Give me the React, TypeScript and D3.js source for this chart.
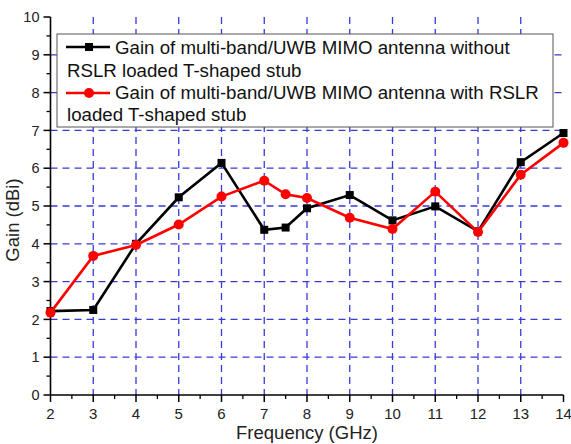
import React from "react";
import * as d3 from "d3";

const freqs = [2, 3, 4, 5, 6, 7, 7.5, 8, 9, 10, 11, 12, 13, 14];
const gainWithout = [2.22, 2.25, 4.0, 5.23, 6.14, 4.37, 4.43, 4.94, 5.29, 4.62, 4.99, 4.33, 6.16, 6.93];
const gainWith = [2.18, 3.68, 3.97, 4.51, 5.25, 5.67, 5.31, 5.21, 4.69, 4.39, 5.38, 4.31, 5.83, 6.67];
const xTicks = [2, 3, 4, 5, 6, 7, 8, 9, 10, 11, 12, 13, 14];
const yTicks = [0, 1, 2, 3, 4, 5, 6, 7, 8, 9, 10];
const legendLines = [
  "Gain of multi-band/UWB MIMO antenna without",
  "RSLR loaded T-shaped stub",
  "Gain of multi-band/UWB MIMO antenna with RSLR",
  "loaded T-shaped stub",
];

const W = 571;
const H = 444;
const FONT = "'Liberation Sans', Arial, sans-serif";

export default function App() {
  const x = d3.scaleLinear().domain([2, 14]).range([50.5, 563.5]);
  const y = d3.scaleLinear().domain([0, 10]).range([395, 17]);
  const line = d3
    .line<[number, number]>()
    .x((d) => x(d[0]))
    .y((d) => y(d[1]));
  const blackPts: [number, number][] = freqs.map((f, i) => [f, gainWithout[i]]);
  const redPts: [number, number][] = freqs.map((f, i) => [f, gainWith[i]]);
  const xMinor = d3.range(2.5, 14, 1);
  const yMinor = d3.range(0.5, 10, 1);
  const gridColor = "#3a3ad6";

  return (
    <svg
      width={W}
      height={H}
      style={{ position: "absolute", left: 0, top: 0, background: "#fff" }}
      fontFamily={FONT}
    >
      <rect width={W} height={H} fill="#fff" />
      {/* grid */}
      {yTicks
        .filter((t) => t > 0 && t < 10)
        .map((t) => (
          <line
            key={"gy" + t}
            x1={x(2)}
            x2={x(14)}
            y1={y(t)}
            y2={y(t)}
            stroke={gridColor}
            strokeWidth={1.3}
            strokeDasharray="7,5"
          />
        ))}
      {xTicks
        .filter((t) => t > 2 && t < 14)
        .map((t) => (
          <line
            key={"gx" + t}
            x1={x(t)}
            x2={x(t)}
            y1={y(10)}
            y2={y(0)}
            stroke={gridColor}
            strokeWidth={1.3}
            strokeDasharray="7,5"
          />
        ))}
      {/* axes */}
      <line x1={x(2)} x2={x(2)} y1={y(10)} y2={y(0)} stroke="#000" strokeWidth={1.6} />
      <line x1={x(2)} x2={x(14)} y1={y(0)} y2={y(0)} stroke="#000" strokeWidth={1.6} />
      {yTicks.map((t) => (
        <g key={"yt" + t}>
          <line x1={x(2) - 7} x2={x(2)} y1={y(t)} y2={y(t)} stroke="#000" strokeWidth={1.5} />
          <text
            x={x(2) - 11}
            y={y(t)}
            dy="0.36em"
            textAnchor="end"
            fontSize={14.5}
            fill="#222"
          >
            {t}
          </text>
        </g>
      ))}
      {yMinor.map((t) => (
        <line key={"ym" + t} x1={x(2) - 4} x2={x(2)} y1={y(t)} y2={y(t)} stroke="#000" strokeWidth={1.3} />
      ))}
      {xTicks.map((t) => (
        <g key={"xt" + t}>
          <line x1={x(t)} x2={x(t)} y1={y(0)} y2={y(0) + 7} stroke="#000" strokeWidth={1.5} />
          <text x={x(t)} y={y(0) + 24} textAnchor="middle" fontSize={15} fill="#222">
            {t}
          </text>
        </g>
      ))}
      {xMinor.map((t) => (
        <line key={"xm" + t} x1={x(t)} x2={x(t)} y1={y(0)} y2={y(0) + 4} stroke="#000" strokeWidth={1.3} />
      ))}
      {/* axis titles */}
      <text x={307} y={439} textAnchor="middle" fontSize={18.5} fill="#222">
        Frequency (GHz)
      </text>
      <text
        transform="translate(19,220) rotate(-90)"
        textAnchor="middle"
        fontSize={18.5}
        fill="#222"
      >
        Gain (dBi)
      </text>
      {/* series */}
      <path d={line(blackPts) || ""} fill="none" stroke="#000" strokeWidth={2.6} />
      {blackPts.map((p, i) => (
        <rect key={"bm" + i} x={x(p[0]) - 4} y={y(p[1]) - 4} width={8} height={8} fill="#000" />
      ))}
      <path d={line(redPts) || ""} fill="none" stroke="#f00" strokeWidth={2.6} />
      {redPts.map((p, i) => (
        <circle key={"rm" + i} cx={x(p[0])} cy={y(p[1])} r={5} fill="#f00" />
      ))}
      {/* legend */}
      <rect x={57} y={34} width={496} height={93} fill="#fff" stroke="#555" strokeWidth={1} />
      <line x1={66} x2={110} y1={47} y2={47} stroke="#000" strokeWidth={2.6} />
      <rect x={85} y={43} width={8} height={8} fill="#000" />
      <line x1={66} x2={110} y1={93} y2={93} stroke="#f00" strokeWidth={2.6} />
      <circle cx={89} cy={93} r={5} fill="#f00" />
      <text x={115} y={53.5} fontSize={18.7} fill="#111">
        {legendLines[0]}
      </text>
      <text x={67} y={76.5} fontSize={18.7} fill="#111">
        {legendLines[1]}
      </text>
      <text x={115} y={99} fontSize={18.7} fill="#111">
        {legendLines[2]}
      </text>
      <text x={67} y={121} fontSize={18.7} fill="#111">
        {legendLines[3]}
      </text>
    </svg>
  );
}
